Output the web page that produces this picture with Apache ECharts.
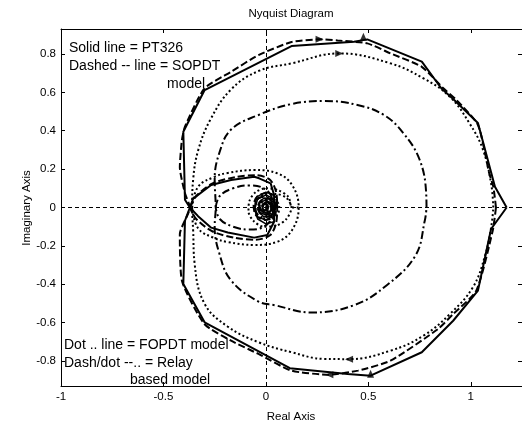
<!DOCTYPE html>
<html><head><meta charset="utf-8">
<script src="https://cdn.jsdelivr.net/npm/echarts@6/dist/echarts.min.js"></script>
<style>html,body{margin:0;padding:0;background:#fff}#c{width:522px;height:428px}</style>
</head><body><div id="c"></div>
<script>
// ---- tick labels ----
const xTicks = [-1, -0.5, 0, 0.5, 1];
const yTicks = [-0.8, -0.6, -0.4, -0.2, 0, 0.2, 0.4, 0.6, 0.8];

// ---- Solid line = PT326 ----
const solidOuter = [[1.175,0],[1.118,0.108],[1.035,0.44],[0.914,0.565],[0.857,0.62],[0.761,0.76],[0.495,0.876],[0.43,0.864],[0.125,0.841],[-0.299,0.612],[-0.403,0.395],[-0.395,0.04],[-0.371,0],[-0.395,-0.069],[-0.403,-0.398],[-0.299,-0.598],[0.117,-0.837],[0.399,-0.867],[0.511,-0.876],[0.761,-0.754],[0.914,-0.59],[1.035,-0.433],[1.099,-0.112],[1.175,0]];
const solidInner = [[-0.371,0],[-0.355,0.046],[-0.267,0.117],[-0.17,0.143],[-0.057,0.16],[-0.033,0.152],[0.023,0.126],[0.04,0.065],[0.04,-0.074],[0.007,-0.143],[-0.057,-0.157],[-0.186,-0.13],[-0.267,-0.105],[-0.331,-0.045],[-0.371,0]];
const solidCoreA = [[0.04,-0.074],[0.0,-0.085],[-0.04,-0.06],[-0.055,-0.01],[-0.04,0.045],[0.0,0.065],[0.04,0.045],[0.05,0.0],[0.03,-0.04],[-0.01,-0.05],[-0.035,-0.02],[-0.03,0.025],[0.0,0.04],[0.025,0.02],[0.025,-0.015],[0.0,-0.03],[-0.02,-0.01],[-0.01,0.015],[0.01,0.015],[0.01,-0.005],[0.0,0.0]];
const solidCoreB = [[0.04,0.065],[0.0,0.08],[-0.045,0.055],[-0.055,0.0],[-0.04,-0.05],[0.0,-0.065],[0.04,-0.04],[0.05,0.01],[0.03,0.045],[-0.01,0.05],[-0.035,0.02],[-0.03,-0.025],[0.0,-0.04],[0.025,-0.02],[0.025,0.015],[0.0,0.03],[-0.02,0.01],[-0.01,-0.015],[0.01,-0.015],[0.01,0.005],[0.0,0.0]];

// ---- Dashed line = SOPDT model ----
const dashedOuter = [[1.123,0],[1.11,0.108],[1.09,0.178],[1.035,0.43],[0.93,0.56],[0.866,0.621],[0.761,0.733],[0.608,0.803],[0.495,0.855],[0.35,0.87],[0.262,0.876],[0.125,0.862],[-0.036,0.794],[-0.17,0.707],[-0.3,0.62],[-0.395,0.421],[-0.41,0.35],[-0.42,0.21],[-0.395,0.074],[-0.371,0],[-0.42,-0.138],[-0.41,-0.38],[-0.3,-0.607],[-0.17,-0.694],[-0.036,-0.763],[0.125,-0.85],[0.31,-0.871],[0.45,-0.85],[0.608,-0.798],[0.84,-0.633],[0.914,-0.555],[1.027,-0.433],[1.107,-0.121],[1.123,0]];
const dashedInner = [[-0.371,0],[-0.34,0.06],[-0.26,0.125],[-0.15,0.158],[-0.05,0.168],[0.02,0.145],[0.05,0.08],[0.055,0],[0.05,-0.08],[0.02,-0.145],[-0.05,-0.168],[-0.15,-0.158],[-0.26,-0.125],[-0.34,-0.06],[-0.371,0]];
const dashedCore = [[0.055,0],[0.05,0.05],[0.01,0.075],[-0.04,0.06],[-0.06,0.01],[-0.045,-0.045],[0.0,-0.065],[0.045,-0.04],[0.05,0.01],[0.02,0.045],[-0.02,0.04],[-0.04,0.0],[-0.02,-0.035],[0.015,-0.035],[0.03,0.0],[0.01,0.025],[-0.015,0.015],[-0.015,-0.01],[0.005,-0.015],[0.0,0.0]];

// ---- Dot line = FOPDT model ----
const dottedOuter = [[1.11,0],[1.1,0.12],[1.06,0.3],[0.994,0.438],[0.898,0.577],[0.769,0.673],[0.608,0.751],[0.358,0.803],[0.125,0.751],[-0.036,0.711],[-0.17,0.615],[-0.27,0.46],[-0.33,0.3],[-0.355,0.146],[-0.36,0],[-0.355,-0.12],[-0.348,-0.29],[-0.3,-0.5],[-0.187,-0.62],[-0.036,-0.702],[0.125,-0.754],[0.286,-0.789],[0.406,-0.79],[0.608,-0.746],[0.769,-0.668],[0.898,-0.555],[1.01,-0.416],[1.07,-0.25],[1.1,-0.1],[1.11,0]];
const dottedInner = [[-0.36,0],[-0.331,0.108],[-0.25,0.16],[-0.186,0.18],[-0.057,0.195],[0.056,0.178],[0.128,0.117],[0.16,0],[0.128,-0.117],[0.056,-0.178],[-0.057,-0.195],[-0.186,-0.18],[-0.25,-0.16],[-0.331,-0.108],[-0.36,0]];
const dottedCore = [[0.16,0],[0.128,0],[0.11,0.055],[0.06,0.09],[0.0,0.1],[-0.05,0.08],[-0.08,0.035],[-0.085,-0.02],[-0.06,-0.07],[-0.01,-0.1],[0.05,-0.095],[0.1,-0.06],[0.125,0],[0.1,0.05],[0.05,0.07],[-0.01,0.065],[-0.05,0.03],[-0.055,-0.02],[-0.025,-0.055],[0.025,-0.06],[0.06,-0.03],[0.065,0.01],[0.04,0.04],[0.0,0.04],[-0.03,0.015],[-0.025,-0.02],[0.01,-0.03],[0.03,-0.005],[0.01,0.015],[0,0]];

// ---- Dash/dot = Relay based model ----
const dashdotOuter = [[0.784,0],[0.782,0.08],[0.75,0.25],[0.672,0.386],[0.576,0.482],[0.447,0.534],[0.286,0.555],[0.125,0.539],[-0.036,0.482],[-0.17,0.406],[-0.227,0.285],[-0.25,0.146],[-0.245,0],[-0.25,-0.1],[-0.227,-0.24],[-0.17,-0.38],[-0.036,-0.49],[0.043,-0.509],[0.22,-0.547],[0.43,-0.509],[0.59,-0.405],[0.73,-0.25],[0.776,-0.066],[0.784,0]];
const dashdotInner = [[-0.245,0],[-0.225,0.06],[-0.16,0.1],[-0.08,0.115],[-0.01,0.1],[0.03,0.05],[0.035,0],[0.03,-0.05],[-0.01,-0.1],[-0.08,-0.115],[-0.16,-0.1],[-0.225,-0.06],[-0.245,0]];
const dashdotCore = [[0.035,0],[0.02,0.045],[-0.02,0.055],[-0.05,0.03],[-0.05,-0.015],[-0.02,-0.05],[0.02,-0.045],[0.035,-0.01],[0.02,0.025],[-0.015,0.03],[-0.03,0.0],[-0.01,-0.025],[0.015,-0.015],[0.005,0.01],[0,0]];

// ---- direction arrows ----
const arrowsRight = [[0.262,0.876],[0.358,0.803]];
const arrowsLeft = [[0.31,-0.871],[0.406,-0.79]];
const arrowsUp = [[0.476,0.89],[0.511,-0.866]];

const FONT = '"Liberation Sans", Arial, Helvetica, sans-serif';
const chart = echarts.init(document.getElementById('c'), null, {renderer: 'canvas'});

function ln(data, type, w, smooth, extra) {
  return Object.assign({
    type: 'line', data: data, showSymbol: false, symbol: 'none', smooth: smooth || false,
    lineStyle: {color: '#000', width: w, type: type}, silent: true, animation: false, z: 3
  }, extra || {});
}
const SOLID = 'solid', DASH = [7, 3], DOT = [2, 2.5], DASHDOT = [8, 3, 2, 3];

function axisX(pos, labels) {
  return {
    type: 'value', min: -1, max: 1.25, position: pos,
    axisLine: {show: true, onZero: false, lineStyle: {color: '#000', width: 1}},
    axisTick: {show: true, inside: true, length: 4, customValues: xTicks, lineStyle: {color: '#000'}},
    axisLabel: {show: labels, customValues: xTicks, color: '#000', fontSize: 11.5, fontFamily: FONT, margin: 5},
    splitLine: {show: false}
  };
}
function axisY(pos, labels) {
  return {
    type: 'value', min: -0.93, max: 0.93, position: pos,
    axisLine: {show: true, onZero: false, lineStyle: {color: '#000', width: 1}},
    axisTick: {show: true, inside: true, length: 4, customValues: yTicks, lineStyle: {color: '#000'}},
    axisLabel: {show: labels, customValues: yTicks, color: '#000', fontSize: 11.5, fontFamily: FONT, margin: 5},
    splitLine: {show: false}
  };
}
function arrows(data, rot) {
  return {
    type: 'scatter', data: data, symbol: 'triangle', symbolSize: [7, 8], symbolRotate: rot,
    itemStyle: {color: '#000'}, silent: true, animation: false, z: 4
  };
}
function txt(t, x, y, size, align) {
  return {type: 'text', x: x, y: y, silent: true, z: 10,
    style: {text: t, fill: '#000', fontSize: size, fontFamily: FONT, textAlign: align || 'left', textVerticalAlign: 'middle'}};
}

chart.setOption({
  animation: false,
  backgroundColor: '#fff',
  grid: {left: 61, top: 29, width: 466, height: 357, containLabel: false},
  xAxis: [axisX('bottom', true), axisX('top', false)],
  yAxis: [axisY('left', true), axisY('right', false)],
  series: [
    ln(dashdotOuter, DASHDOT, 2, 0.4, {markLine: {silent: true, symbol: 'none', animation: false, label: {show: false},
      lineStyle: {color: '#000', width: 1, type: [4, 3]}, data: [{yAxis: 0}, {xAxis: 0}]}}),
    ln(dashdotInner, DASHDOT, 2, 0.4),
    ln(dashdotCore, DASHDOT, 2, 0.3),
    ln(dottedOuter, DOT, 2, 0.4),
    ln(dottedInner, DOT, 2, 0.4),
    ln(dottedCore, DOT, 2, 0.3),
    ln(dashedOuter, DASH, 2, 0.2),
    ln(dashedInner, DASH, 2, 0.3),
    ln(dashedCore, DASH, 2, 0.3),
    ln(solidOuter, SOLID, 2),
    ln(solidInner, SOLID, 2),
    ln(solidCoreA, SOLID, 1.5),
    ln(solidCoreB, SOLID, 1.5),
    arrows(arrowsRight, -90),
    arrows(arrowsLeft, 90),
    arrows(arrowsUp, 0)
  ],
  graphic: [
    txt('Nyquist Diagram', 291, 14, 11.5, 'center'),
    txt('Real Axis', 291, 417, 11.5, 'center'),
    {type: 'text', x: 27, y: 208, rotation: Math.PI / 2, silent: true,
      style: {text: 'Imaginary Axis', fill: '#000', fontSize: 11.5, fontFamily: FONT, textAlign: 'center', textVerticalAlign: 'middle'}},
    txt('Solid line = PT326', 69, 48, 14),
    txt('Dashed -- line = SOPDT', 69, 66, 14),
    txt('model', 167, 84, 14),
    txt('Dot .. line = FOPDT model', 64, 345, 14),
    txt('Dash/dot --.. = Relay', 64, 363, 14),
    txt('based model', 130, 380, 14)
  ]
});
</script>
</body></html>
